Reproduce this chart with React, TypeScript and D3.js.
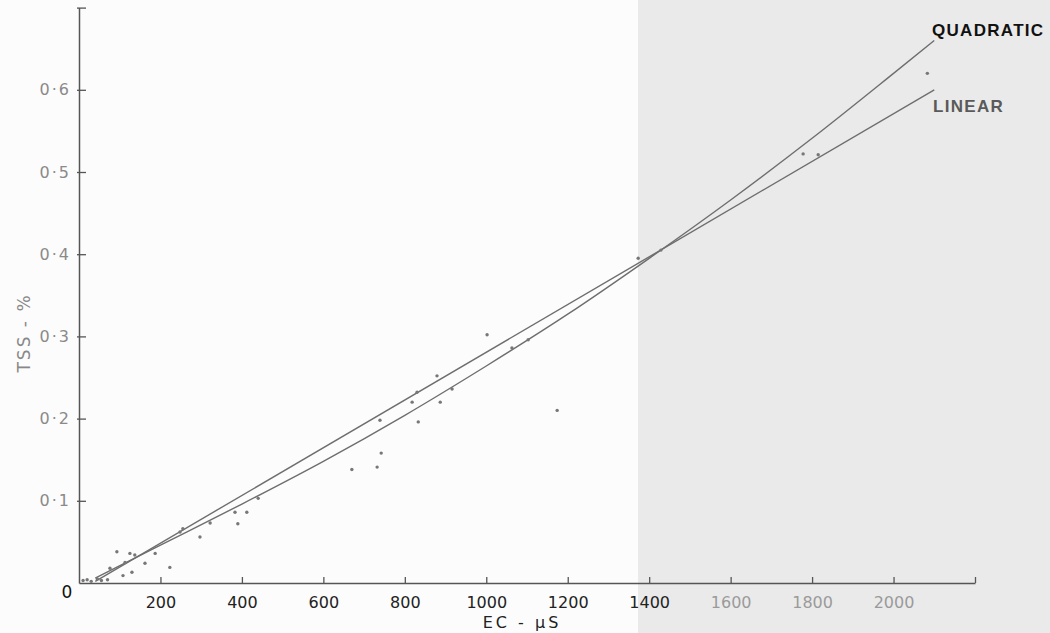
import React, { useRef, useEffect } from "react";
import * as d3 from "d3";

// EC (µS) and TSS (%) readings, scattered samples
const ecValues = [10, 20, 30, 45, 55, 70, 76, 93, 108, 113, 125, 130, 137, 162, 187, 223, 248, 255, 297, 322, 383, 390, 412, 440, 670, 732, 742, 739, 833, 818, 830, 879, 887, 916, 1002, 1063, 1103, 1174, 1373, 1429, 1778, 1815, 2083];
const tssValues = [0.003, 0.004, 0.002, 0.005, 0.003, 0.004, 0.018, 0.038, 0.009, 0.025, 0.036, 0.013, 0.034, 0.024, 0.036, 0.019, 0.062, 0.066, 0.056, 0.073, 0.086, 0.072, 0.086, 0.103, 0.138, 0.141, 0.158, 0.198, 0.196, 0.22, 0.232, 0.252, 0.22, 0.236, 0.302, 0.286, 0.296, 0.21, 0.395, 0.405, 0.522, 0.521, 0.62];

// fitted lines
const linearEC = [40, 2100];
const linearTSS = [0.002, 0.6];
const quadEC = [40, 200, 400, 600, 800, 1000, 1200, 1400, 1600, 1800, 2000, 2100];
const quadTSS = [0.006, 0.046, 0.096, 0.148, 0.204, 0.264, 0.327, 0.395, 0.466, 0.541, 0.62, 0.66];

const xTicks = [200, 400, 600, 800, 1000, 1200, 1400, 1600, 1800, 2000, 2200];
const yTicks = [0.1, 0.2, 0.3, 0.4, 0.5, 0.6, 0.7];

function App() {
  const svgRef = useRef<SVGSVGElement>(null);

  useEffect(() => {
    const svg = d3.select(svgRef.current);
    svg.selectAll("*").remove();

    const x = d3.scaleLinear().domain([0, 2200]).range([79, 975]);
    const y = d3.scaleLinear().domain([0, 0.7]).range([583, 7.6]);

    // greyish page texture on the right side of the scan
    svg.append("rect").attr("x", 638).attr("y", 0).attr("width", 412).attr("height", 633).attr("fill", "#eaeaea");

    // x axis, ticks pointing up into the plot
    const xAxis = d3.axisBottom(x)
      .tickValues(xTicks)
      .tickSizeInner(-6)
      .tickSizeOuter(0)
      .tickPadding(14)
      .tickFormat((d) => (+d >= 2200 ? "" : String(d)));
    const gx = svg.append("g").attr("transform", `translate(0,${y(0)})`).call(xAxis);
    gx.select(".domain").attr("stroke", "#555").attr("stroke-width", 1.5);
    gx.selectAll(".tick line").attr("stroke", "#555").attr("stroke-width", 1.3);
    gx.selectAll(".tick text")
      .attr("font-family", "DejaVu Sans")
      .attr("font-size", 16)
      .attr("fill", (d: any) => (d >= 1600 ? "#9a9a9a" : "#222"));

    // y axis, ticks pointing right
    const yAxis = d3.axisLeft(y)
      .tickValues(yTicks)
      .tickSizeInner(-7)
      .tickSizeOuter(0)
      .tickPadding(8)
      .tickFormat((d) => (+d >= 0.7 ? "" : d3.format(".1f")(+d).replace(".", "·")));
    const gy = svg.append("g").attr("transform", `translate(${x(0)},0)`).call(yAxis);
    gy.select(".domain").attr("stroke", "#555").attr("stroke-width", 1.5);
    gy.selectAll(".tick line").attr("stroke", "#555").attr("stroke-width", 1.3).attr("x1", -2);
    gy.selectAll(".tick text")
      .attr("font-family", "DejaVu Sans")
      .attr("font-size", 16)
      .attr("letter-spacing", 2)
      .attr("fill", "#8a8a8a");

    // origin label
    svg.append("text")
      .attr("x", 67).attr("y", 598)
      .attr("text-anchor", "middle")
      .attr("font-family", "DejaVu Sans")
      .attr("font-size", 17)
      .attr("fill", "#111")
      .text("0");

    // axis titles
    svg.append("text")
      .attr("x", 522).attr("y", 628)
      .attr("text-anchor", "middle")
      .attr("font-family", "DejaVu Sans")
      .attr("font-size", 16)
      .attr("letter-spacing", 3)
      .attr("fill", "#222")
      .text("EC - µS");

    svg.append("text")
      .attr("transform", "translate(30,333) rotate(-90)")
      .attr("text-anchor", "middle")
      .attr("font-family", "DejaVu Sans")
      .attr("font-size", 17)
      .attr("letter-spacing", 2)
      .attr("fill", "#888")
      .text("TSS - %");

    // fitted lines
    const line = d3.line<[number, number]>()
      .x((d) => x(d[0]))
      .y((d) => y(d[1]))
      .curve(d3.curveMonotoneX);

    const linearPts = linearEC.map((v, i) => [v, linearTSS[i]] as [number, number]);
    const quadPts = quadEC.map((v, i) => [v, quadTSS[i]] as [number, number]);

    svg.append("path").datum(linearPts).attr("d", line).attr("fill", "none").attr("stroke", "#6e6e6e").attr("stroke-width", 1.4);
    svg.append("path").datum(quadPts).attr("d", line).attr("fill", "none").attr("stroke", "#6e6e6e").attr("stroke-width", 1.4);

    // samples
    svg.selectAll(".pt")
      .data(ecValues.map((v, i) => [v, tssValues[i]]))
      .join("circle")
      .attr("class", "pt")
      .attr("cx", (d) => x(d[0]))
      .attr("cy", (d) => y(d[1]))
      .attr("r", 1.7)
      .attr("fill", "#777");

    // line labels
    svg.append("text")
      .attr("x", 932).attr("y", 36)
      .attr("font-family", "Liberation Sans")
      .attr("font-weight", "bold")
      .attr("font-size", 17)
      .attr("letter-spacing", 1.3)
      .attr("fill", "#111")
      .text("QUADRATIC");

    svg.append("text")
      .attr("x", 933).attr("y", 112)
      .attr("font-family", "Liberation Sans")
      .attr("font-weight", "bold")
      .attr("font-size", 17)
      .attr("letter-spacing", 1.3)
      .attr("fill", "#5a5a5a")
      .text("LINEAR");
  }, []);

  return (
    <svg
      ref={svgRef}
      width={1050}
      height={633}
      style={{ position: "absolute", left: 0, top: 0, background: "#fcfcfc" }}
    />
  );
}

export default App;
